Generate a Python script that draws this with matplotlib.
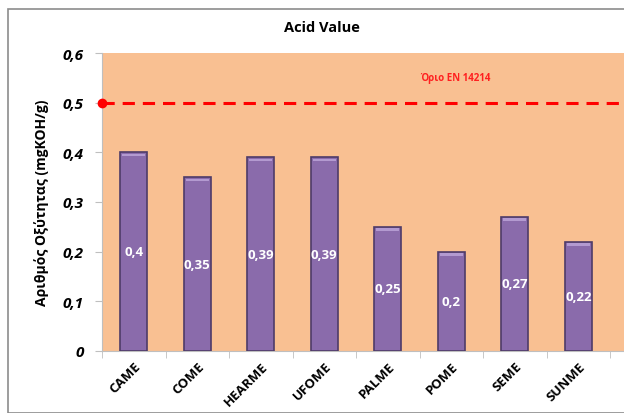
import matplotlib.pyplot as plt
from matplotlib.patches import Rectangle

plt.rcParams['font.family'] = ['Open Sans', 'DejaVu Sans']

# Acid value of each biodiesel sample
samples = ['CAME', 'COME', 'HEARME', 'UFOME', 'PALME', 'POME', 'SEME', 'SUNME']
acid_value = [0.4, 0.35, 0.39, 0.39, 0.25, 0.2, 0.27, 0.22]
value_labels = ['0,4', '0,35', '0,39', '0,39', '0,25', '0,2', '0,27', '0,22']
limit = 0.5
yticks = [0, 0.1, 0.2, 0.3, 0.4, 0.5, 0.6]
ytick_labels = ['0', '0,1', '0,2', '0,3', '0,4', '0,5', '0,6']

fig = plt.figure(figsize=(6.24, 4.14), dpi=100)
fig.patches.append(Rectangle((8 / 624, 0), 1.1, 1 - 10 / 414, transform=fig.transFigure,
                             fill=False, edgecolor='#8c8c8c', linewidth=1.2))

ax = fig.add_axes([102 / 624, 62 / 414, 522 / 624, 298 / 414])
ax.set_facecolor('#f9c092')

x = range(len(samples))
ax.bar(x, acid_value, width=0.42, color='#8a6bab', edgecolor='#4e3b68', linewidth=1.2, zorder=3)
# light rim on top of each bar
ax.bar(x, [0.005] * len(samples), bottom=[v - 0.008 for v in acid_value], width=0.36,
       color='#b39ad0', linewidth=0, zorder=4)

for i, (v, lbl) in enumerate(zip(acid_value, value_labels)):
    ax.text(i, v / 2, lbl, ha='center', va='center', color='white',
            fontsize=9.5, fontweight='bold', zorder=5)

ax.axhline(limit, color='#ff0000', linestyle=(0, (4, 2.6)), linewidth=2.2, zorder=4)
ax.plot([-0.5], [limit], 'o', color='#ff0000', markersize=6, clip_on=False, zorder=6)
ax.text(5.06, 0.551, 'Όριο EN 14214', color='#ff2020', fontsize=7, fontweight='bold',
        ha='center', va='center')

ax.set_xlim(-0.5, 7.72)
ax.set_ylim(0, 0.6)
ax.set_yticks(yticks)
ax.set_yticklabels(ytick_labels, fontsize=11, fontweight='bold', fontstyle='italic')
ax.set_xticks(x)
ax.set_xticklabels(samples, rotation=45, ha='right', rotation_mode='anchor',
                   fontsize=9.5, fontweight='bold')
ax.tick_params(axis='x', length=0, pad=6)
ax.set_xticks([i - 0.5 for i in range(len(samples) + 1)], minor=True)
ax.tick_params(axis='x', which='minor', length=5, color='#bfbfbf')
ax.tick_params(axis='y', length=5, color='#bfbfbf', pad=8)

for side in ['top', 'right']:
    ax.spines[side].set_visible(False)
ax.spines['left'].set_color('#bfbfbf')
ax.spines['bottom'].set_color('#bfbfbf')

ax.set_ylabel('Αριθμός Οξύτητας (mgKOH/g)', fontsize=10, fontweight='bold', labelpad=10)
fig.text(322 / 624, 1 - 28 / 414, 'Acid Value', ha='center', va='center',
         fontsize=10.5, fontweight='bold')

fig.savefig('out.png', dpi=100)
